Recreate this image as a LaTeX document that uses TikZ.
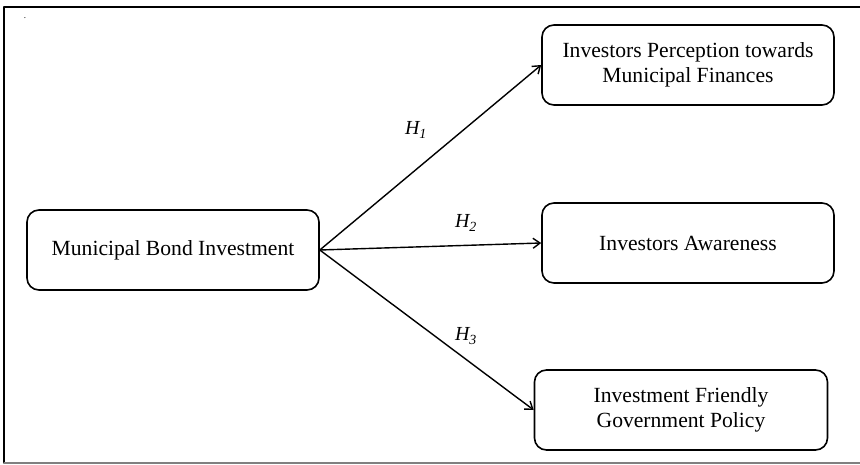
\documentclass[tikz,border=0pt]{standalone}
\usepackage{fontspec}
\setmainfont{Liberation Serif}
\usetikzlibrary{arrows.meta}

\begin{document}
\begin{tikzpicture}[line cap=round,line join=round,>={Straight Barb[length=7bp,width=10bp]},x=1bp,y=-1bp,
    box/.style={draw=black,line width=1.6bp,rounded corners=12bp,align=center,
      minimum width=292bp,minimum height=80bp,font=\fontsize{21.7}{25}\selectfont},
    hyp/.style={font=\fontsize{20}{24}\selectfont\itshape}]
        \useasboundingbox (0,0) rectangle (860,465);
        \draw[line width=1.3bp,color=black] (860,7) -- (4,7) -- (4,463);
        \draw[line width=1.3bp,color=gray] (4,463) -- (860,463);
        \node[font=\fontsize{9}{9}\selectfont] (dot) at (25,18) {.};
        % boxes
        \node[box] (mbi) at (173,250) {Municipal Bond Investment};
        \node[box] (perc) at (688,65) {Investors Perception towards\\Municipal Finances};
        \node[box] (aware) at (688,243) {Investors Awareness};
        \node[box,minimum width=293bp] (policy) at (681,410) {Investment Friendly\\Government Policy};
        % hypotheses
        \draw[->,line width=1.4bp] (mbi.east) -- (perc.west);
        \draw[->,line width=1.4bp] (mbi.east) -- (aware.west);
        \draw[->,line width=1.4bp] (mbi.east) -- (policy.west);
        \node[hyp] (h1) at (416,130) {H\textsubscript{1}};
        \node[hyp] (h2) at (466,223) {H\textsubscript{2}};
        \node[hyp] (h3) at (466,336) {H\textsubscript{3}};
      \end{tikzpicture}
\end{document}
